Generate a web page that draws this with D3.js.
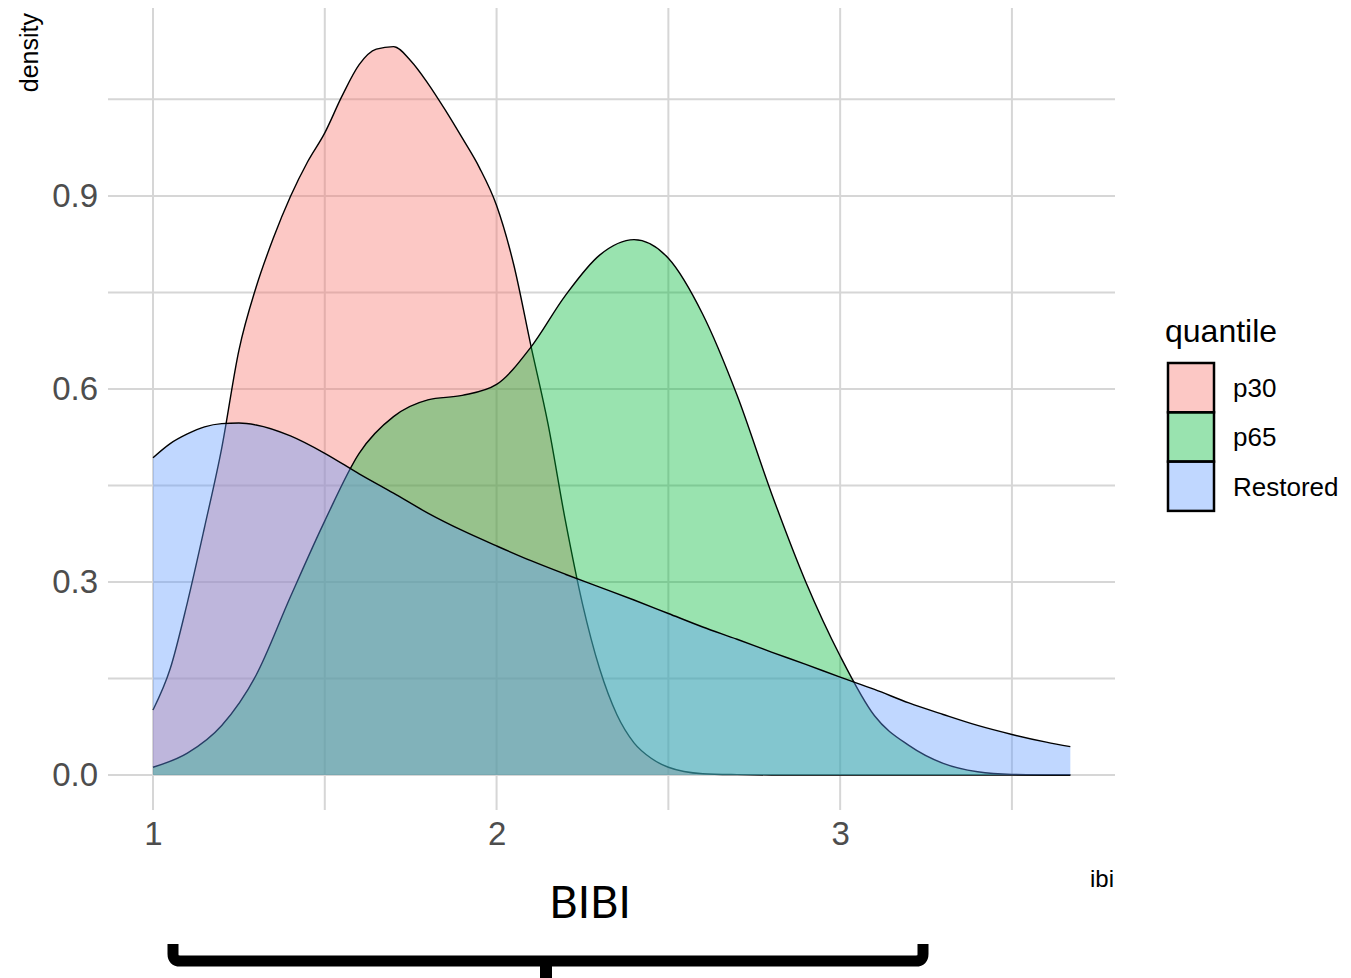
<!DOCTYPE html>
<html>
<head>
<meta charset="utf-8">
<script src="https://cdn.jsdelivr.net/npm/d3@7"></script>
<style>
  body { margin: 0; background: #ffffff; }
  svg { display: block; }
</style>
</head>
<body>
<svg id="chart" width="1351" height="978"></svg>
<script>
// Density estimates of the ibi index for each quantile group
const groups = ["p30", "p65", "Restored"];
const groupColors = ["#F8766D", "#00BA38", "#619CFF"];

const p30X = [1.0, 1.05, 1.1, 1.15, 1.2, 1.25, 1.3, 1.35, 1.4, 1.45, 1.5, 1.55, 1.6, 1.65, 1.7, 1.75, 1.8, 1.85, 1.9, 1.95, 2.0, 2.05, 2.1, 2.15, 2.2, 2.25, 2.3, 2.35, 2.4, 2.45, 2.5, 2.6, 2.7, 2.8, 3.0, 3.3, 3.67];
const p30Density = [0.101, 0.165, 0.268, 0.385, 0.508, 0.660, 0.758, 0.834, 0.899, 0.953, 0.998, 1.055, 1.104, 1.128, 1.132, 1.110, 1.075, 1.034, 0.990, 0.944, 0.885, 0.793, 0.667, 0.545, 0.396, 0.266, 0.165, 0.094, 0.050, 0.026, 0.012, 0.002, 0.0005, 0.0, 0.0, 0.0, 0.0];

const p65X = [1.0, 1.1, 1.2, 1.3, 1.4, 1.5, 1.6, 1.7, 1.8, 1.9, 2.0, 2.1, 2.2, 2.3, 2.4, 2.5, 2.6, 2.7, 2.8, 2.9, 3.0, 3.1, 3.2, 3.3, 3.4, 3.5, 3.67];
const p65Density = [0.012, 0.034, 0.077, 0.155, 0.277, 0.395, 0.500, 0.557, 0.583, 0.590, 0.607, 0.665, 0.745, 0.808, 0.832, 0.803, 0.716, 0.590, 0.438, 0.300, 0.185, 0.092, 0.046, 0.018, 0.005, 0.001, 0.0];

const restoredX = [1.0, 1.05, 1.1, 1.15, 1.2, 1.25, 1.3, 1.4, 1.5, 1.6, 1.7, 1.8, 1.9, 2.0, 2.1, 2.2, 2.3, 2.4, 2.5, 2.6, 2.7, 2.8, 2.9, 3.0, 3.1, 3.2, 3.3, 3.4, 3.5, 3.6, 3.67];
const restoredDensity = [0.493, 0.515, 0.530, 0.541, 0.546, 0.547, 0.544, 0.527, 0.500, 0.468, 0.438, 0.407, 0.380, 0.356, 0.333, 0.312, 0.292, 0.272, 0.251, 0.230, 0.211, 0.191, 0.172, 0.152, 0.133, 0.112, 0.094, 0.077, 0.063, 0.051, 0.044];

const seriesX = [p30X, p65X, restoredX];
const seriesDensity = [p30Density, p65Density, restoredDensity];

const xTicks = [1, 2, 3];
const xMinorTicks = [1.5, 2.5, 3.5];
const yTicks = [0, 0.3, 0.6, 0.9];
const yMinorTicks = [0.15, 0.45, 0.75, 1.05];

const xTitle = "ibi";
const yTitle = "density";
const legendTitle = "quantile";
const bracketLabel = "BIBI";

// Panel geometry
const panel = { left: 108, right: 1115, top: 8, bottom: 810 };

const x = d3.scaleLinear().domain([0.869, 3.80]).range([panel.left, panel.right]);
const y = d3.scaleLinear().domain([-0.0544, 1.192]).range([panel.bottom, panel.top]);

const svg = d3.select("#chart");
const gridColor = "#d6d6d6";

// Grid lines (minor and major)
const grid = svg.append("g").attr("class", "grid");
grid.selectAll("line.vx")
  .data(xMinorTicks.concat(xTicks))
  .join("line")
  .attr("x1", d => x(d)).attr("x2", d => x(d))
  .attr("y1", panel.top).attr("y2", panel.bottom)
  .attr("stroke", gridColor).attr("stroke-width", 2);
grid.selectAll("line.hy")
  .data(yMinorTicks.concat(yTicks))
  .join("line")
  .attr("y1", d => y(d)).attr("y2", d => y(d))
  .attr("x1", panel.left).attr("x2", panel.right)
  .attr("stroke", gridColor).attr("stroke-width", 2);

// Density areas with upper outlines, drawn in group order
const area = d3.area()
  .x(d => x(d[0]))
  .y0(y(0))
  .y1(d => y(d[1]))
  .curve(d3.curveMonotoneX);
const line = d3.line()
  .x(d => x(d[0]))
  .y(d => y(d[1]))
  .curve(d3.curveMonotoneX);

groups.forEach((g, i) => {
  const pts = seriesX[i].map((v, j) => [v, seriesDensity[i][j]]);
  const layer = svg.append("g").attr("class", "density-" + g);
  layer.append("path")
    .attr("d", area(pts))
    .attr("fill", groupColors[i])
    .attr("fill-opacity", 0.4);
  layer.append("path")
    .attr("d", line(pts))
    .attr("fill", "none")
    .attr("stroke", "#000")
    .attr("stroke-width", 1.4);
});

// Axes (labels only, no lines)
const axisFont = "Liberation Sans, Arial, sans-serif";
const yAxis = svg.append("g")
  .attr("transform", `translate(${panel.left},0)`)
  .call(d3.axisLeft(y).tickValues(yTicks).tickFormat(d3.format(".1f")).tickSize(0).tickPadding(10));
const xAxis = svg.append("g")
  .attr("transform", `translate(0,${panel.bottom})`)
  .call(d3.axisBottom(x).tickValues(xTicks).tickFormat(d3.format("d")).tickSize(0).tickPadding(12));
[yAxis, xAxis].forEach(a => {
  a.select(".domain").remove();
  a.selectAll("text")
    .attr("fill", "#4d4d4d")
    .style("font-family", axisFont)
    .style("font-size", "33px");
});

// Axis titles
svg.append("text")
  .attr("transform", "translate(38,13) rotate(-90)")
  .attr("text-anchor", "end")
  .style("font-family", axisFont)
  .style("font-size", "25px")
  .attr("fill", "#000")
  .text(yTitle);
svg.append("text")
  .attr("x", 1114).attr("y", 887)
  .attr("text-anchor", "end")
  .style("font-family", axisFont)
  .style("font-size", "24px")
  .attr("fill", "#000")
  .text(xTitle);

// Legend
const legend = svg.append("g").attr("class", "legend");
legend.append("text")
  .attr("x", 1165).attr("y", 342)
  .style("font-family", axisFont)
  .style("font-size", "32px")
  .attr("fill", "#000")
  .text(legendTitle);
const keyH = 49.3, keyTop = 363;
groups.forEach((g, i) => {
  legend.append("rect")
    .attr("x", 1168).attr("y", keyTop + i * keyH)
    .attr("width", 46).attr("height", keyH)
    .attr("fill", groupColors[i]).attr("fill-opacity", 0.4)
    .attr("stroke", "#000").attr("stroke-width", 2.5);
  legend.append("text")
    .attr("x", 1233).attr("y", keyTop + i * keyH + keyH / 2)
    .attr("dy", "0.36em")
    .style("font-family", axisFont)
    .style("font-size", "26px")
    .attr("fill", "#000")
    .text(g);
});

// Bracket annotation under the axis
svg.append("text")
  .attr("x", 590).attr("y", 918)
  .attr("text-anchor", "middle")
  .style("font-family", "Lato, 'Open Sans', sans-serif")
  .style("font-size", "44px")
  .attr("fill", "#000")
  .text(bracketLabel);
svg.append("path")
  .attr("d", "M173,944 L173,954 Q173,961 180,961 L916,961 Q923,961 923,954 L923,944")
  .attr("fill", "none")
  .attr("stroke", "#000")
  .attr("stroke-width", 11);
svg.append("path")
  .attr("d", "M546,961 L546,990")
  .attr("fill", "none")
  .attr("stroke", "#000")
  .attr("stroke-width", 12);
</script>
</body>
</html>
